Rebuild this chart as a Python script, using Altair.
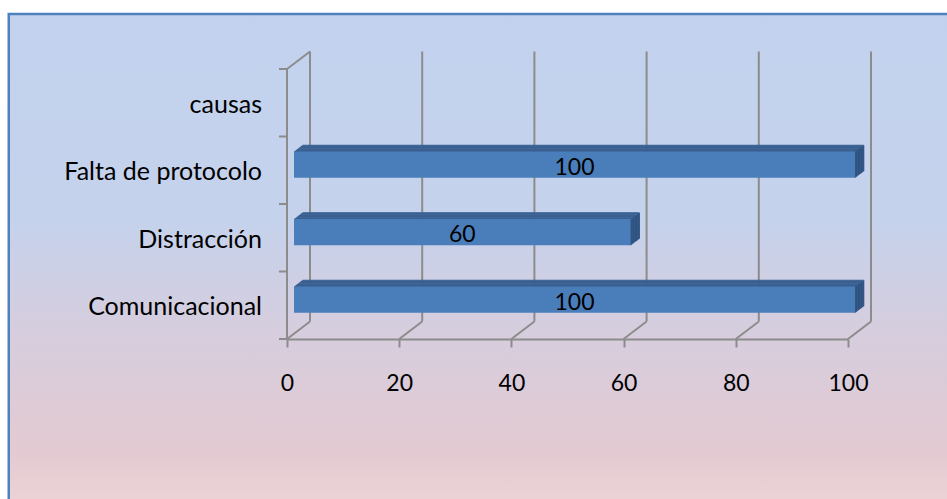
import altair as alt
import pandas as pd

# ---- data ----
categories = ["Comunicacional", "Distracción", "Falta de protocolo", "causas"]
values = [100, 60, 100, None]
x_ticks = [0, 20, 40, 60, 80, 100]

# ---- geometry helpers (pixel -> data units) ----
W, H = 561, 270
PX = 100 / W          # x units per pixel
PY = 4 / H            # y units per pixel
DEPTH_X, DEPTH_Y = 23, 17.5      # wall depth in px
BAR_OFF_X, BAR_OFF_Y = 7, 5.5    # bar front face offset
BAR_DX, BAR_DY = 8.7, 6.5        # bar depth
BAR_HALF = 13

GRID = "#8C8C8C"
FRONT = "#4A7EBB"
TOP = "#3A6192"
SIDE = "#2D5280"
FONT = "Lato"

x_scale = alt.Scale(domain=[0, 100], nice=False, zero=False)
y_scale = alt.Scale(domain=[0, 4], nice=False, zero=False)
x_axis = alt.Axis(values=x_ticks, grid=False, domainColor=GRID, domainWidth=2,
                  tickColor=GRID, tickWidth=2, tickSize=8, labelFont=FONT,
                  labelFontSize=23, labelColor="black", labelBaseline="alphabetic",
                  labelPadding=43, title=None, labelFlush=False, zindex=1)

def X(f):
    return alt.X(f, type="quantitative", scale=x_scale, axis=x_axis, stack=None)

def Y(f):
    return alt.Y(f, type="quantitative", scale=y_scale, axis=None, stack=None)

# ---- background ----
bg = alt.Chart(pd.DataFrame({"a": [0]})).mark_rect(
    fill=alt.LinearGradient(
        gradient="linear", x1=0, x2=0, y1=0, y2=1,
        stops=[alt.GradientStop(offset=0, color="#C2D2EE"),
               alt.GradientStop(offset=0.4, color="#C5D2EC"),
               alt.GradientStop(offset=0.63, color="#D7CDDD"),
               alt.GradientStop(offset=0.85, color="#E3CAD2"),
               alt.GradientStop(offset=1, color="#F0D8D8")]),
    stroke="#4F81BD", strokeWidth=2.5
).encode(x=alt.value(8.75 - 287), x2=alt.value(720),
         y=alt.value(14 - 69), y2=alt.value(460))

# ---- walls / grid ----
back = pd.DataFrame({"x": [t + DEPTH_X * PX for t in x_ticks],
                     "y": [DEPTH_Y * PY] * len(x_ticks),
                     "y2": [4 + DEPTH_Y * PY] * len(x_ticks)})
back_rules = alt.Chart(back).mark_rule(color=GRID, strokeWidth=2).encode(
    x=X("x"), y=Y("y"), y2="y2")

floor = pd.DataFrame({"x": x_ticks, "y": [0] * len(x_ticks),
                      "x2": [t + DEPTH_X * PX for t in x_ticks],
                      "y2": [DEPTH_Y * PY] * len(x_ticks)})
floor_rules = alt.Chart(floor).mark_rule(color=GRID, strokeWidth=2).encode(
    x=X("x"), x2="x2", y=Y("y"), y2="y2")

edges = pd.DataFrame({"x": [0, 0], "x2": [DEPTH_X * PX, 0],
                      "y": [4, 0], "y2": [4 + DEPTH_Y * PY, 4]})
edge_rules = alt.Chart(edges).mark_rule(color=GRID, strokeWidth=2).encode(
    x=X("x"), x2="x2", y=Y("y"), y2="y2")

lt = pd.DataFrame({"x": [-8 * PX] * 5, "x2": [0] * 5, "y": [0, 1, 2, 3, 4]})
left_ticks = alt.Chart(lt).mark_rule(color=GRID, strokeWidth=2).encode(
    x=X("x"), x2="x2", y=Y("y"))

# ---- bars (front face + 3D top/side faces drawn as fine stripes) ----
front_rows, top_rows, side_rows, lab_rows = [], [], [], []
dX, dY = BAR_DX * PX, BAR_DY * PY
N_TOP, N_SIDE = 9, 12
for i, (c, v) in enumerate(zip(categories, values)):
    if v is None:
        continue
    fx0, fx1 = BAR_OFF_X * PX, v + BAR_OFF_X * PX
    cy = i + 0.5 + BAR_OFF_Y * PY
    fy0, fy1 = cy - BAR_HALF * PY, cy + BAR_HALF * PY
    front_rows.append({"x": fx0, "x2": fx1, "y": fy0, "y2": fy1})
    lab_rows.append({"x": (fx0 + fx1) / 2, "y": cy, "t": str(v)})
    for j in range(N_TOP + 1):
        t = j / N_TOP
        top_rows.append({"x": fx0 + t * dX, "x2": fx1 + t * dX, "y": fy1 + t * dY})
    for j in range(N_SIDE + 1):
        t = j / N_SIDE
        side_rows.append({"x": fx1 + t * dX, "y": fy0 + t * dY, "y2": fy1 + t * dY})

front = alt.Chart(pd.DataFrame(front_rows)).mark_rect(color=FRONT).encode(
    x=X("x"), x2="x2", y=Y("y"), y2="y2")
topf = alt.Chart(pd.DataFrame(top_rows)).mark_rule(color=TOP, strokeWidth=1.2).encode(
    x=X("x"), x2="x2", y=Y("y"))
sidef = alt.Chart(pd.DataFrame(side_rows)).mark_rule(color=SIDE, strokeWidth=1.2).encode(
    x=X("x"), y=Y("y"), y2="y2")

bar_labels = alt.Chart(pd.DataFrame(lab_rows)).mark_text(
    font=FONT, fontSize=23, color="black", baseline="alphabetic", dy=10, align="center"
).encode(x=X("x"), y=Y("y"), text="t:N")

cat_df = pd.DataFrame({"cat": categories, "y": [i + 0.5 for i in range(len(categories))]})
cat_labels = alt.Chart(cat_df).mark_text(
    font=FONT, fontSize=25, color="black", baseline="alphabetic", dy=10, align="right"
).encode(x=alt.value(-25), y=Y("y"), text="cat:N")

chart = alt.layer(bg, back_rules, floor_rules, edge_rules, left_ticks,
                  topf, sidef, front, bar_labels, cat_labels).properties(
    width=W, height=H,
    autosize=alt.AutoSizeParams(type="none"),
    padding={"left": 287, "top": 69, "right": 947 - 287 - W, "bottom": 499 - 69 - H},
).configure_view(stroke=None).configure(background="white")

chart.save("out.html", embed_options={"renderer": "svg", "actions": False})
